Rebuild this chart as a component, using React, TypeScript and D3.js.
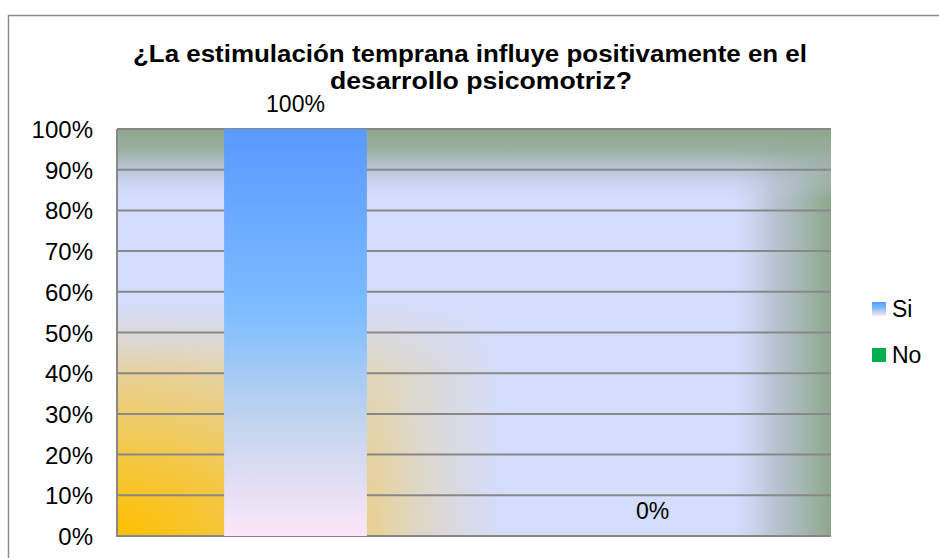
import * as d3 from 'd3'

const categories = ['Si', 'No']
const values = [1, 0]
const yTickValues = [0, 0.1, 0.2, 0.3, 0.4, 0.5, 0.6, 0.7, 0.8, 0.9, 1]
const titleLines = ['¿La estimulación temprana influye positivamente en el', 'desarrollo psicomotriz?']
const legendColors = ['url(#barGrad)', '#00b050']

const W = 939
const H = 558
const font = '"Liberation Sans", Arial, sans-serif'

export default function App() {
  //plot area
  const left = 117
  const right = 831
  const top = 129
  const bottom = 536

  //scales
  const x = d3.scaleBand<string>()
    .domain(categories)
    .range([left, right])
    .paddingInner(0.6)
    .paddingOuter(0.3)

  const y = d3.scaleLinear()
    .domain([0, 1])
    .range([bottom, top])

  const pct = d3.format('.0%')

  return (
    <svg width={W} height={H} style={{ position: 'absolute', left: 0, top: 0 }} fontFamily={font}>
      <defs>
        <linearGradient id="barGrad" x1="0" y1="0" x2="0" y2="1">
          <stop offset="0" stopColor="#5a99ff" />
          <stop offset="0.45" stopColor="#7dbdff" />
          <stop offset="0.72" stopColor="#c2d4ee" />
          <stop offset="1" stopColor="#fbe7f8" />
        </linearGradient>
        <linearGradient id="topBand" gradientUnits="userSpaceOnUse" x1="0" y1={top} x2="0" y2={top + 70}>
          <stop offset="0" stopColor="#8fa78d" />
          <stop offset="0.3" stopColor="#98ad9b" stopOpacity="0.95" />
          <stop offset="0.65" stopColor="#aebbc6" stopOpacity="0.5" />
          <stop offset="1" stopColor="#c8d2ec" stopOpacity="0" />
        </linearGradient>
        <linearGradient id="rightBand" gradientUnits="userSpaceOnUse" x1="722" y1="0" x2={right} y2="0">
          <stop offset="0" stopColor="#d4ddfd" stopOpacity="0" />
          <stop offset="0.45" stopColor="#b7c3d2" stopOpacity="0.9" />
          <stop offset="1" stopColor="#8ea78c" />
        </linearGradient>
        <radialGradient id="warm" gradientUnits="userSpaceOnUse" cx="0" cy="0" r="1"
          gradientTransform={`translate(${left},${bottom}) scale(360,230)`}>
          <stop offset="0" stopColor="#ffc000" />
          <stop offset="0.35" stopColor="#f3c745" />
          <stop offset="0.75" stopColor="#e6d2a0" />
          <stop offset="1" stopColor="#dfd6bc" />
        </radialGradient>
        <linearGradient id="mxGrad" gradientUnits="userSpaceOnUse" x1={left} y1="0" x2="505" y2="0">
          <stop offset="0" stopColor="#fff" />
          <stop offset="0.68" stopColor="#fff" />
          <stop offset="1" stopColor="#000" />
        </linearGradient>
        <linearGradient id="myGrad" gradientUnits="userSpaceOnUse" x1="0" y1={bottom} x2="0" y2="300">
          <stop offset="0" stopColor="#fff" />
          <stop offset="0.68" stopColor="#fff" />
          <stop offset="1" stopColor="#000" />
        </linearGradient>
        <mask id="mx" maskUnits="userSpaceOnUse" x="0" y="0" width={W} height={H}>
          <rect x="0" y="0" width={W} height={H} fill="url(#mxGrad)" />
        </mask>
        <mask id="my" maskUnits="userSpaceOnUse" x="0" y="0" width={W} height={H}>
          <rect x="0" y="0" width={W} height={H} fill="url(#myGrad)" />
        </mask>
        <clipPath id="plotClip">
          <rect x={left} y={top} width={right - left} height={bottom - top} />
        </clipPath>
      </defs>

      {/* chart border */}
      <rect x={8.5} y={15.5} width={W + 10} height={H} fill="#fff" stroke="#8c8c8c" strokeWidth={1.5} />

      {/* title */}
      <text x={470} y={62} textAnchor="middle" fontSize={23} fontWeight="bold" textLength={674} lengthAdjust="spacingAndGlyphs">{titleLines[0]}</text>
      <text x={481} y={89} textAnchor="middle" fontSize={23} fontWeight="bold" textLength={302} lengthAdjust="spacingAndGlyphs">{titleLines[1]}</text>

      {/* plot background */}
      <g clipPath="url(#plotClip)">
        <rect x={left} y={top} width={right - left} height={bottom - top} fill="#d4ddfd" />
        <rect x={700} y={top} width={right - 700} height={bottom - top} fill="url(#rightBand)" />
        <rect x={left} y={top} width={right - left} height={72} fill="url(#topBand)" />
        <g mask="url(#mx)">
          <g mask="url(#my)">
            <rect x={left} y={280} width={400} height={bottom - 280} fill="url(#warm)" />
          </g>
        </g>
      </g>

      {/* gridlines */}
      {yTickValues.map(t => (
        <line key={t} x1={left} x2={right} y1={y(t)} y2={y(t)} stroke="#888888" strokeWidth={2} />
      ))}
      <line x1={left} x2={left} y1={top} y2={bottom + 1} stroke="#888888" strokeWidth={2} />

      {/* y axis labels */}
      {yTickValues.map(t => (
        <text key={t} x={93} y={y(t) + 9} textAnchor="end" fontSize={24}>{pct(t)}</text>
      ))}

      {/* bars */}
      {categories.map((c, i) => (
        <rect key={c} x={x(c)} y={y(values[i])} width={x.bandwidth()} height={bottom - y(values[i])}
          fill={legendColors[i]} />
      ))}

      {/* data labels */}
      {categories.map((c, i) => (
        <text key={c} x={(x(c) ?? 0) + x.bandwidth() / 2} y={y(values[i]) - 17} textAnchor="middle" fontSize={23}>
          {pct(values[i])}
        </text>
      ))}

      {/* legend */}
      {categories.map((c, i) => (
        <g key={c} transform={`translate(872, ${302 + i * 46})`}>
          <rect width={14} height={14} fill={legendColors[i]} />
          <text x={20} y={15} fontSize={23}>{c}</text>
        </g>
      ))}
    </svg>
  )
}
